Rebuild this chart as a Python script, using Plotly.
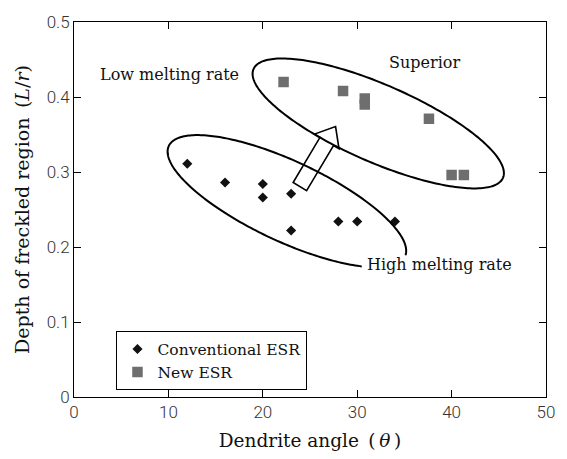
import numpy as np
import plotly.graph_objects as go

# Dendrite angle (deg) and depth of freckled region (L/r)
conv_angle = [12, 16, 20, 20, 23, 23, 28, 30, 34]
conv_depth = [0.311, 0.286, 0.284, 0.266, 0.271, 0.222, 0.234, 0.234, 0.234]
new_angle = [22.2, 28.5, 30.8, 30.8, 37.6, 40.0, 41.3]
new_depth = [0.420, 0.408, 0.398, 0.390, 0.371, 0.296, 0.296]

W, H = 567, 459
ML, MR, MT, MB = 74, 13, 19, 60
PW, PH = W - ML - MR, H - MT - MB
XR, YR = [0, 50], [0, 0.5]

SERIF = "DejaVu Serif"
SANS = "Roboto"


def to_data(px, py):
    """Screen pixel -> data coordinates of the plot area."""
    return (XR[0] + (px - ML) / PW * (XR[1] - XR[0]),
            YR[0] + (H - MB - py) / PH * (YR[1] - YR[0]))


def path_from_pixels(pts, closed=True):
    d = [to_data(p, q) for p, q in pts]
    s = "M" + " L".join(f"{x:.4f},{y:.5f}" for x, y in d)
    return s + (" Z" if closed else "")


def ellipse_path(cx, cy, a, b, ang, t0=0, t1=360, closed=True):
    r = np.radians(ang)
    ts = np.radians(np.linspace(t0, t1, 240))
    px = cx + a * np.cos(ts) * np.cos(r) - b * np.sin(ts) * np.sin(r)
    py = cy + a * np.cos(ts) * np.sin(r) + b * np.sin(ts) * np.cos(r)
    return path_from_pixels(list(zip(px, py)), closed)


def block_arrow(tail, tip, half_shaft, half_head, head_len):
    tail, tip = np.array(tail, float), np.array(tip, float)
    d = tip - tail
    d /= np.hypot(*d)
    n = np.array([-d[1], d[0]])
    neck = tip - d * head_len
    pts = [tail + n * half_shaft, neck + n * half_shaft, neck + n * half_head, tip,
           neck - n * half_head, neck - n * half_shaft, tail - n * half_shaft]
    return path_from_pixels([tuple(p) for p in pts])


fig = go.Figure()
fig.add_trace(go.Scatter(x=conv_angle, y=conv_depth, mode="markers", name="Conventional ESR",
                         marker=dict(symbol="diamond", size=7.8, color="#111111")))
fig.add_trace(go.Scatter(x=new_angle, y=new_depth, mode="markers", name="New ESR",
                         marker=dict(symbol="square", size=10.5, color="#6e6e6e")))

line = dict(color="black", width=2)
shapes = [
    # group outlines (screen-pixel ellipses, rotated)
    dict(type="path", path=ellipse_path(383.4, 121.8, 138.3, 39.2, 23.5), line=line),
    dict(type="path", path=ellipse_path(290.5, 200.6, 132.5, 40.6, 25.0, 43, 358, closed=False),
         line=line),
    # hollow arrow from the conventional to the new group
    dict(type="path", path=block_arrow((303.7, 185.8), (340.0, 125.0), 8, 14.5, 17.5),
         line=dict(color="black", width=1.6)),
]
fig.update_layout(shapes=shapes)

lab_font = dict(family=SERIF, size=16, color="#111")
for text, (px, py), anchor in [("Low melting rate", (171.5, 72), "center"),
                               ("Superior", (430.5, 60), "center"),
                               ("High melting rate", (370, 265), "left")]:
    x, y = to_data(px, py)
    fig.add_annotation(x=x, y=y, text=text, showarrow=False, xanchor=anchor,
                       yanchor="middle", font=lab_font)

fig.update_layout(
    width=W, height=H, margin=dict(l=ML, r=MR, t=MT, b=MB),
    plot_bgcolor="white", paper_bgcolor="white",
    xaxis=dict(range=XR, dtick=10, ticks="inside", ticklen=7, tickcolor="black",
               showline=True, linecolor="black", mirror="ticks", showgrid=False, zeroline=False,
               tickfont=dict(family=SANS, size=17, color="#333", weight=300),
               title=dict(text="Dendrite angle\u2002(\u2009<i>θ</i>\u2009)", standoff=12,
                          font=dict(family=SERIF, size=18.5, color="#111"))),
    yaxis=dict(range=YR, dtick=0.1, ticks="inside", ticklen=7, tickcolor="black",
               showline=True, linecolor="black", mirror="ticks", showgrid=False, zeroline=False,
               tickfont=dict(family=SANS, size=17, color="#333", weight=300),
               title=dict(text="Depth of freckled region\u2002(<i>L</i>/<i>r</i>)", standoff=12,
                          font=dict(family=SERIF, size=19, color="#111"))),
    legend=dict(x=0.09, y=0.175, xanchor="left", yanchor="top", bordercolor="black",
                borderwidth=1, tracegroupgap=0,
                font=dict(family=SERIF, size=15.5, color="#111")),
)
fig.write_html("out.html")
